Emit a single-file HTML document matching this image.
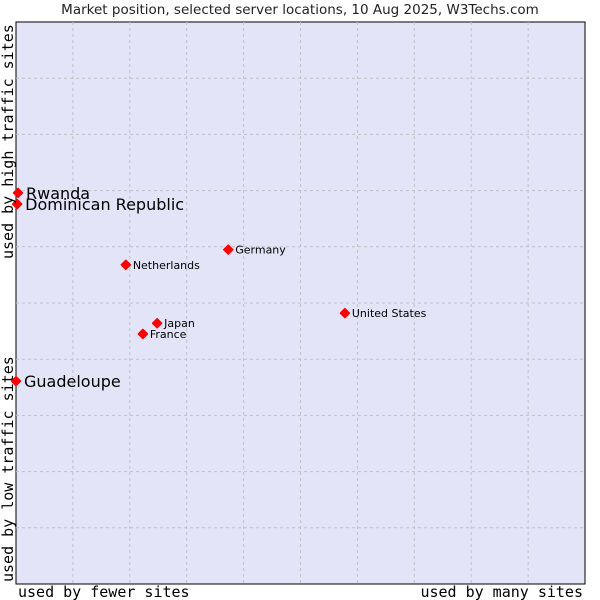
<!DOCTYPE html>
<html><head><meta charset="utf-8"><style>
body{margin:0;background:#fff;width:600px;height:600px;overflow:hidden}
svg{display:block}
</style></head><body>
<svg id="chart" width="600" height="600">
<text x="300" y="14" text-anchor="middle" font-family="DejaVu Sans, sans-serif" font-size="13.5" fill="#222">Market position, selected server locations, 10 Aug 2025, W3Techs.com</text>
<rect x="16" y="22" width="569" height="562" fill="#e4e4f8" stroke="#000" stroke-width="1"/>
<g id="grid"></g>
<g id="points"></g>
<text x="18" y="597" font-family="DejaVu Sans Mono, monospace" font-size="15" fill="#000">used by fewer sites</text>
<text x="583" y="597" text-anchor="end" font-family="DejaVu Sans Mono, monospace" font-size="15" fill="#000">used by many sites</text>
<text transform="translate(13,582) rotate(-90)" font-family="DejaVu Sans Mono, monospace" font-size="15" fill="#000">used by low traffic sites</text>
<text transform="translate(13,259) rotate(-90)" font-family="DejaVu Sans Mono, monospace" font-size="15" fill="#000">used by high traffic sites</text>
</svg>
<script>
const names=["Rwanda","Dominican Republic","Guadeloupe","Netherlands","Germany","United States","Japan","France"];
const xValues=[0.35,0.2,0,19.3,37.3,57.8,24.8,22.3];
const yValues=[69.6,67.6,36.1,56.8,59.5,48.2,46.4,44.5];
const bigLabel=[true,true,true,false,false,false,false,false];
const ns="http://www.w3.org/2000/svg";
const X0=16,X1=585,Y0=584,Y1=22;
const xs=v=>X0+v/100*(X1-X0);
const ys=v=>Y0-v/100*(Y0-Y1);
const grid=document.getElementById('grid');
for(let i=1;i<10;i++){
  const gx=document.createElementNS(ns,'line');
  gx.setAttribute('x1',xs(i*10));gx.setAttribute('x2',xs(i*10));
  gx.setAttribute('y1',Y1);gx.setAttribute('y2',Y0);
  gx.setAttribute('stroke','#c0c0c8');gx.setAttribute('stroke-dasharray','3,3');
  
  
  grid.appendChild(gx);
  const gy=document.createElementNS(ns,'line');
  gy.setAttribute('y1',ys(i*10));gy.setAttribute('y2',ys(i*10));
  gy.setAttribute('x1',X0);gy.setAttribute('x2',X1);
  gy.setAttribute('stroke','#c0c0c8');gy.setAttribute('stroke-dasharray','3,3');
  
  
  grid.appendChild(gy);
}
const pts=document.getElementById('points');
names.forEach((n,i)=>{
  const cx=xs(xValues[i]),cy=ys(yValues[i]);
  const p=document.createElementNS(ns,'path');
  p.setAttribute('d',`M${cx} ${cy-4.5}L${cx+4.5} ${cy}L${cx} ${cy+4.5}L${cx-4.5} ${cy}Z`);
  p.setAttribute('fill','#f00');
  p.setAttribute('stroke','#f00');
  p.setAttribute('stroke-width','1.5');
  p.setAttribute('stroke-linejoin','round');
  
  
  pts.appendChild(p);
  const t=document.createElementNS(ns,'text');
  t.setAttribute('x',cx+(bigLabel[i]?8:7));
  t.setAttribute('y',cy+(bigLabel[i]?6:4));
  t.setAttribute('font-family','DejaVu Sans, sans-serif');
  t.setAttribute('font-size',bigLabel[i]?16:11);
  t.setAttribute('fill','#000');
  t.textContent=n;
  
  
  pts.appendChild(t);
});
</script>
</body></html>
